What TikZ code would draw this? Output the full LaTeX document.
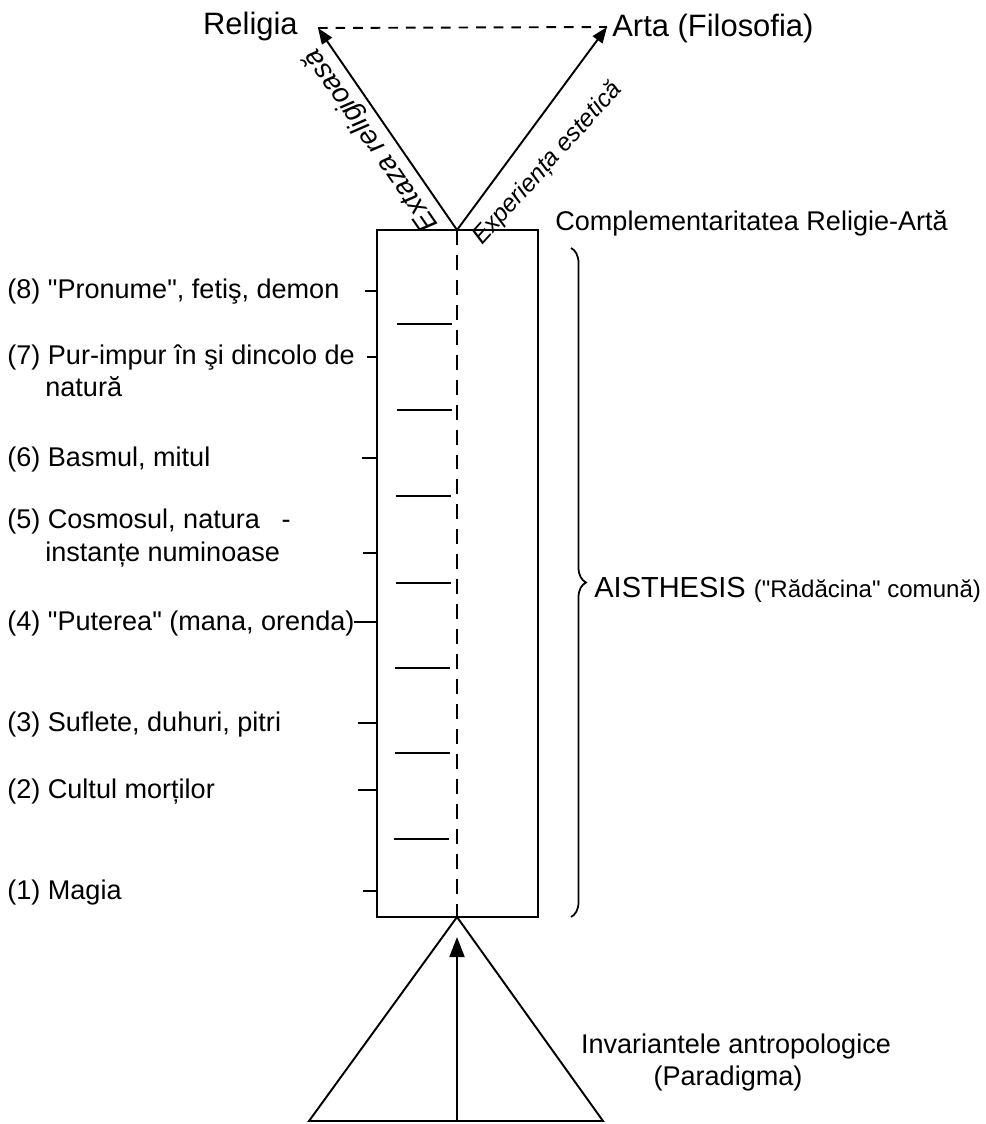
\documentclass[tikz,border=0pt]{standalone}
\usepackage{fontspec}
\setmainfont{Liberation Sans}
\newfontfamily\labfont{Liberation Sans}
\usetikzlibrary{arrows.meta,positioning,decorations.pathreplacing}
\tikzset{
  lbl/.style={font=\labfont\fontsize{15.4}{18}\selectfont, inner sep=0pt, anchor=base west},
  toplbl/.style={font=\labfont\fontsize{17.6}{21}\selectfont, inner sep=0pt},
  diaglbl/.style={font=\labfont\itshape\fontsize{16}{19}\selectfont, inner sep=3pt},
  frame/.style={line width=1.1pt},
  rung/.style={line width=0.9pt},
  midline/.style={line width=1.1pt, dash pattern=on 8.5pt off 5.7pt},
  upflow/.style={-{Triangle[length=3.2mm,width=2.4mm]}, line width=1.1pt},
  linkflow/.style={line width=1.1pt, dash pattern=on 5.5pt off 4.5pt}
}

\begin{document}
\begin{tikzpicture}[x=0.02cm, y=-0.02cm]
  \useasboundingbox (0,0) rectangle (985,1124);
  \coordinate (boxtl) at (377,230);
  \coordinate (boxbr) at (538,917);
  \coordinate (apex) at (457,230);
  \coordinate (foot) at (457,917);
  \coordinate (relpt) at (318,28);
  \coordinate (artpt) at (607,27);
  \coordinate (basel) at (309,1121);
  \coordinate (baser) at (603,1121);
  \coordinate (basemid) at (457,1121);
  \coordinate (arrtip) at (457,937);

  \node[toplbl, anchor=base east] (religia) at (298,35) {Religia};
  \node[toplbl, anchor=base west] (arta) at (612,37) {Arta (Filosofia)};
  \draw[upflow] (apex) -- node[diaglbl, rotate=124.5, anchor=south] {Extaza religioasă} (relpt);
  \draw[upflow] (apex) -- (artpt);
  \node[diaglbl, font=\labfont\itshape\fontsize{14}{17}\selectfont, rotate=48, anchor=north west, inner sep=1pt] (este) at (466,234) {Experiența estetică};
  \draw[linkflow] (relpt) -- (artpt);

  \draw[frame] (boxtl) rectangle (boxbr);
  \draw[midline] (apex) -- (foot);

  \draw[rung] (397,324) -- (452,324);
  \draw[rung] (397,410) -- (452,410);
  \draw[rung] (396,496) -- (451,496);
  \draw[rung] (396,583) -- (451,583);
  \draw[rung] (395,668) -- (450,668);
  \draw[rung] (395,753) -- (450,753);
  \draw[rung] (394,839) -- (449,839);

  \draw[frame] (365,291) -- (377,291);
  \draw[frame] (367,357) -- (377,357);
  \draw[frame] (362,458) -- (377,458);
  \draw[frame] (363,553) -- (377,553);
  \draw[frame] (354,622) -- (377,622);
  \draw[frame] (358,723) -- (377,723);
  \draw[frame] (358,790) -- (377,790);
  \draw[frame] (363,891) -- (377,891);

  \node[lbl] (l8) at (7,299) {(8) "Pronume", fetiş, demon};
  \node[lbl] (l7) at (7,365) {(7) Pur-impur în şi dincolo de};
  \node[lbl] (l7b) at (45,397) {natură};
  \node[lbl] (l6) at (7,466) {(6) Basmul, mitul};
  \node[lbl] (l5) at (7,528) {(5) Cosmosul, natura\hspace{0.8em}-};
  \node[lbl] (l5b) at (45,561) {instanțe numinoase};
  \node[lbl] (l4) at (7,630) {(4) "Puterea" (mana, orenda)};
  \node[lbl] (l3) at (7,731) {(3) Suflete, duhuri, pitri};
  \node[lbl] (l2) at (7,798) {(2) Cultul morților};
  \node[lbl] (l1) at (7,899) {(1) Magia};

  \node[lbl] (compl) at (555,231) {Complementaritatea Religie-Artă};
  \draw[line width=1pt, decorate, decoration={brace, amplitude=0.3cm}] (571,248) -- (571,917);
  \node[lbl] (aisth) at (594,597) {\fontsize{16.5}{20}\selectfont AISTHESIS \fontsize{13.7}{16}\selectfont ("Rădăcina" comună)};

  \draw[frame] (foot) -- (basel) -- (baser) -- cycle;
  \draw[upflow, -{Triangle[length=4mm,width=3mm]}] (basemid) -- (arrtip);
  \node[lbl, anchor=base] (inv) at (736,1053) {Invariantele antropologice};
  \node[lbl, anchor=base] (para) at (728,1085) {(Paradigma)};
\end{tikzpicture}
\end{document}
